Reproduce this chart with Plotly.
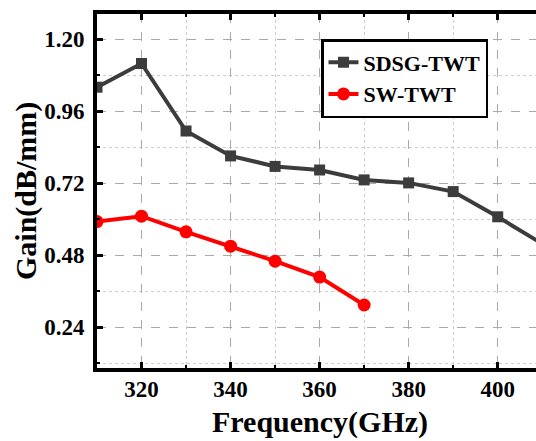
import plotly.graph_objects as go

freq_sdsg = [310, 320, 330, 340, 350, 360, 370, 380, 390, 400, 410]
gain_sdsg = [1.040, 1.119, 0.894, 0.811, 0.776, 0.764, 0.731, 0.721, 0.692, 0.608, 0.518]

freq_sw = [310, 320, 330, 340, 350, 360, 370]
gain_sw = [0.592, 0.610, 0.558, 0.510, 0.460, 0.407, 0.314]

x_ticks = [320, 340, 360, 380, 400]
y_ticks = [0.24, 0.48, 0.72, 0.96, 1.20]
y_tick_text = ["0.24", "0.48", "0.72", "0.96", "1.20"]

FONT = "Liberation Serif, Times New Roman, serif"

W, H = 536, 441
L, R, T, B = 97, 0, 14, 73

fig = go.Figure()
fig.add_trace(go.Scatter(
    x=freq_sdsg, y=gain_sdsg, name="SDSG-TWT", mode="lines+markers",
    line=dict(color="#3c3c3c", width=4),
    marker=dict(symbol="square", size=11, color="#3c3c3c"),
))
fig.add_trace(go.Scatter(
    x=freq_sw, y=gain_sw, name="SW-TWT", mode="lines+markers",
    line=dict(color="#ff0000", width=4),
    marker=dict(symbol="circle", size=13, color="#ff0000"),
))

def px_to_paper_x(px):
    return (px - L) / (W - L - R)

def px_to_paper_y(py):
    return (H - B - py) / (H - T - B)

fig.update_layout(
    width=W, height=H,
    margin=dict(l=L, r=R, t=T, b=B, autoexpand=False),
    paper_bgcolor="white", plot_bgcolor="white",
    font=dict(family=FONT, color="black", size=23, weight="bold"),
    showlegend=True,
    legend=dict(
        x=px_to_paper_x(321), y=px_to_paper_y(39), xanchor="left", yanchor="top",
        bgcolor="white", bordercolor="black", borderwidth=2.5,
        font=dict(family=FONT, size=22, color="black", weight="bold"),
        tracegroupgap=0, itemwidth=30,
    ),
    xaxis=dict(
        range=[310, 408.6], tickmode="array", tickvals=x_ticks,
        ticks="inside", ticklen=6, tickwidth=3, tickcolor="black",
        showline=True, linecolor="black", linewidth=4, mirror="ticks",
        showgrid=True, gridcolor="#aaaaaa", griddash="dash", gridwidth=1,
        zeroline=False, automargin=False,
        tickfont=dict(family=FONT, size=23, weight="bold"),
        ticklabelstandoff=-3,
        minor=dict(tickvals=[310, 330, 350, 370, 390], ticks="inside", ticklen=3, tickwidth=2,
                   tickcolor="black", showgrid=True, gridcolor="#cccccc", griddash="dot", gridwidth=1),
    ),
    yaxis=dict(
        range=[0.104, 1.284], tickmode="array", tickvals=y_ticks, ticktext=y_tick_text,
        ticks="inside", ticklen=6, tickwidth=3, tickcolor="black",
        showline=True, linecolor="black", linewidth=4, mirror=False,
        showgrid=True, gridcolor="#aaaaaa", griddash="dash", gridwidth=1,
        zeroline=False, automargin=False,
        tickfont=dict(family=FONT, size=23, weight="bold"),
        ticklabelstandoff=4,
        minor=dict(tickvals=[0.12, 0.36, 0.60, 0.84, 1.08], ticks="inside", ticklen=3, tickwidth=2,
                   tickcolor="black", showgrid=True, gridcolor="#cccccc", griddash="dot", gridwidth=1),
    ),
    annotations=[
        dict(text="Frequency(GHz)", xref="paper", yref="paper",
             x=px_to_paper_x(320), y=px_to_paper_y(422), xanchor="center", yanchor="middle",
             showarrow=False, font=dict(family=FONT, size=30, weight="bold", color="black")),
        dict(text="Gain(dB/mm)", xref="paper", yref="paper", textangle=-90,
             x=px_to_paper_x(26), y=px_to_paper_y(191), xanchor="center", yanchor="middle",
             showarrow=False, font=dict(family=FONT, size=30, weight="bold", color="black")),
    ],
)

fig.write_html("out.html", config={"displayModeBar": False},
               post_script="document.body.style.margin='0';")
